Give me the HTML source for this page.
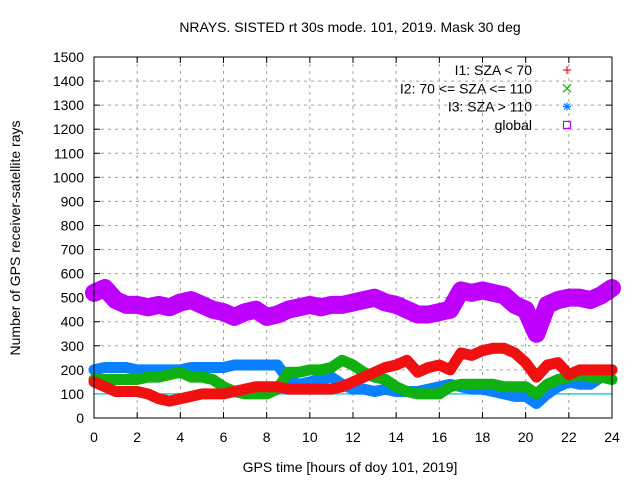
<!DOCTYPE html>
<html><head><meta charset="utf-8"><style>
body{margin:0;background:#fff;}
svg{display:block;font-family:"Liberation Sans",sans-serif;}
</style></head><body>
<svg id="chart" width="640" height="480">
<text x="350" y="32" text-anchor="middle" font-size="14">NRAYS. SISTED rt 30s mode. 101, 2019. Mask 30 deg</text>
<text x="350" y="472" text-anchor="middle" font-size="14">GPS time [hours of doy 101, 2019]</text>
<text transform="translate(20,238) rotate(-90)" text-anchor="middle" font-size="14">Number of GPS receiver-satellite rays</text>
<g id="grid"></g><g id="series"></g>
<rect x="94" y="57" width="518" height="361" fill="none" stroke="#000"/>
<g id="legend" font-size="14"></g>
</svg>
<script>
const hours=[0,0.5,1,1.5,2,2.5,3,3.5,4,4.5,5,5.5,6,6.5,7,7.5,8,8.5,9,9.5,10,10.5,11,11.5,12,12.5,13,13.5,14,14.5,15,15.5,16,16.5,17,17.5,18,18.5,19,19.5,20,20.5,21,21.5,22,22.5,23,23.5,24];
const globalVals=[520,540,490,470,470,460,470,460,480,490,470,450,440,420,440,450,420,430,450,460,470,460,470,470,480,490,500,480,470,450,430,430,440,450,530,520,530,520,510,470,450,350,470,490,500,500,490,510,540];
const i1Vals=[150,130,110,110,110,100,80,70,80,90,100,100,100,110,120,130,130,130,120,120,120,120,120,130,150,170,190,210,220,240,190,210,220,200,270,260,280,290,290,270,230,170,220,230,180,200,200,200,200];
const i2Vals=[160,160,160,160,160,170,170,180,190,170,170,160,130,110,100,100,100,120,190,190,200,200,210,240,220,190,170,160,130,110,100,100,100,130,140,140,140,140,130,130,130,100,140,160,170,180,170,170,160];
const i3Vals=[200,210,210,210,200,200,200,200,200,210,210,210,210,220,220,220,220,220,160,140,150,160,170,140,120,120,110,120,110,110,110,120,130,140,130,120,120,110,100,90,90,60,100,130,150,140,140,170,200];
const xTicks=[0,2,4,6,8,10,12,14,16,18,20,22,24];
const yTicks=[0,100,200,300,400,500,600,700,800,900,1000,1100,1200,1300,1400,1500];
const NS="http://www.w3.org/2000/svg";
const X=h=>94+h*518/24, Y=v=>418-v*361/1500;
function mk(t,a,p){const e=document.createElementNS(NS,t);for(const k in a)e.setAttribute(k,a[k]);p.appendChild(e);return e;}
const grid=document.getElementById('grid');
for(const v of yTicks){
 if(v>0&&v<1500){const l=mk('line',{x1:94,x2:612,y1:Y(v),y2:Y(v),stroke:'#a0a0a0','stroke-dasharray':'3,4'},grid);
 
 }
 const t=mk('text',{x:84,y:Y(v)+5,'text-anchor':'end','font-size':14},grid);t.textContent=v;
 
 
 mk('line',{x1:94,x2:100,y1:Y(v),y2:Y(v),stroke:'#000'},grid);mk('line',{x1:606,x2:612,y1:Y(v),y2:Y(v),stroke:'#000'},grid);
}
for(const h of xTicks){
 if(h>0&&h<24){const l=mk('line',{x1:X(h),x2:X(h),y1:57,y2:418,stroke:'#a0a0a0','stroke-dasharray':'3,4'},grid);
 
 }
 const t=mk('text',{x:X(h),y:442,'text-anchor':'middle','font-size':14},grid);t.textContent=h;
 
 
 mk('line',{x1:X(h),x2:X(h),y1:418,y2:412,stroke:'#000'},grid);mk('line',{x1:X(h),x2:X(h),y1:57,y2:63,stroke:'#000'},grid);
}
const ser=document.getElementById('series');
const ref=mk('line',{x1:94,x2:612,y1:Y(100),y2:Y(100),stroke:'#22d0e0','stroke-width':1.5},ser);


const defs=[['series-i3',i3Vals,'#0a80ff',11],['series-i2',i2Vals,'#10b010',11],['series-i1',i1Vals,'#f01010',11],['series-global',globalVals,'#c000ff',18]];
for(const [n,vals,c,w] of defs){
 const pts=hours.map((h,i)=>X(h)+','+Y(vals[i])).join(' ');
 const p=mk('polyline',{points:pts,fill:'none',stroke:c,'stroke-width':w,'stroke-linejoin':'round','stroke-linecap':'round'},ser);
 
 
}
const leg=document.getElementById('legend');
const labels=['I1: SZA < 70','I2: 70 <= SZA <= 110','I3: SZA > 110','global'];
const cols=['#f01010','#10b010','#0a80ff','#c000ff'];
labels.forEach((s,i)=>{
 const y=70+i*18.3;
 const t=mk('text',{x:532,y:y+5,'text-anchor':'end'},leg);t.textContent=s;
 
 
 const g=mk('g',{stroke:cols[i],'stroke-width':1.2,fill:'none'},leg);
 
 
 const cx=567;
 if(i==0){mk('line',{x1:cx-4,x2:cx+4,y1:y,y2:y},g);mk('line',{x1:cx,x2:cx,y1:y-4,y2:y+4},g);}
 else if(i==1){mk('line',{x1:cx-4,x2:cx+4,y1:y-4,y2:y+4},g);mk('line',{x1:cx-4,x2:cx+4,y1:y+4,y2:y-4},g);}
 else if(i==2){mk('line',{x1:cx-4,x2:cx+4,y1:y,y2:y},g);mk('line',{x1:cx,x2:cx,y1:y-4,y2:y+4},g);mk('line',{x1:cx-3,x2:cx+3,y1:y-3,y2:y+3},g);mk('line',{x1:cx-3,x2:cx+3,y1:y+3,y2:y-3},g);}
 else mk('rect',{x:cx-3.5,y:y-3.5,width:7,height:7},g);
});
</script>
</body></html>
